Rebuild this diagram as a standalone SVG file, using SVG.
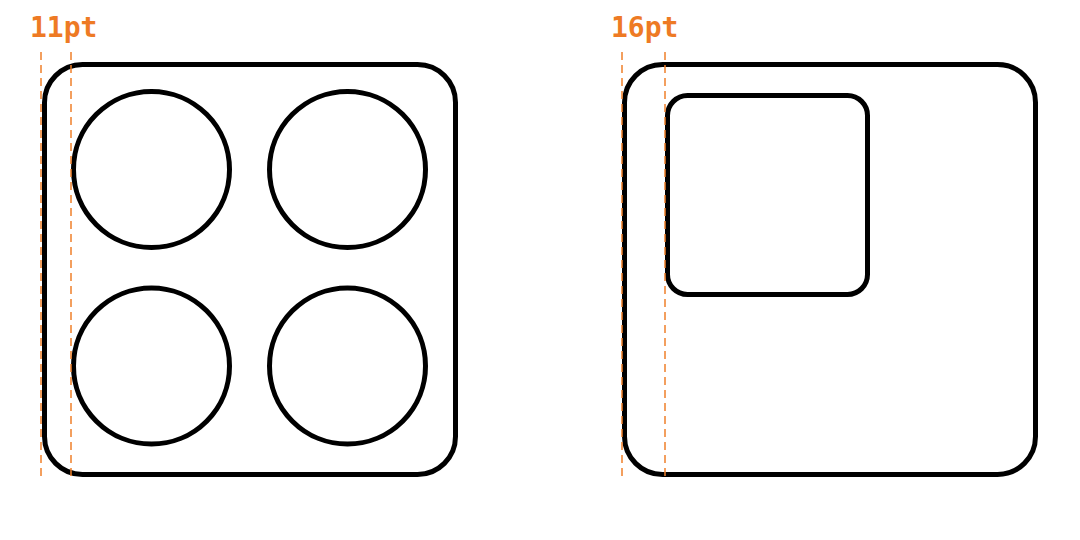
<svg xmlns="http://www.w3.org/2000/svg" width="1080" height="540" viewBox="0 0 1080 540">
<style>
.shape{fill:none;stroke:#000;stroke-width:5}
.guide{fill:none;stroke:#F0802A;stroke-width:1.5;stroke-dasharray:8 5}
.lbl{font-family:"DejaVu Sans Mono","Liberation Mono",monospace;font-weight:bold;font-size:28px;fill:#EE7A24}
</style>
<rect width="1080" height="540" fill="#fff"/>
<g id="left-device">
<rect class="shape" x="44.5" y="64.5" width="411" height="410" rx="38"/>
<circle class="shape" cx="151.5" cy="169.5" r="78"/>
<circle class="shape" cx="347.5" cy="169.5" r="78"/>
<circle class="shape" cx="151.5" cy="366" r="78"/>
<circle class="shape" cx="347.5" cy="366" r="78"/>
</g>
<g id="right-device">
<rect class="shape" x="624.5" y="64.5" width="411" height="410" rx="38"/>
<rect class="shape" x="667.5" y="95.5" width="200" height="199" rx="20"/>
</g>
<g id="guides">
<line class="guide" x1="41" y1="52" x2="41" y2="478"/>
<line class="guide" x1="71" y1="52" x2="71" y2="478"/>
<line class="guide" x1="622" y1="52" x2="622" y2="478"/>
<line class="guide" x1="665" y1="52" x2="665" y2="478"/>
</g>
<text class="lbl" x="30" y="37">11pt</text>
<text class="lbl" x="611" y="37">16pt</text>
</svg>
